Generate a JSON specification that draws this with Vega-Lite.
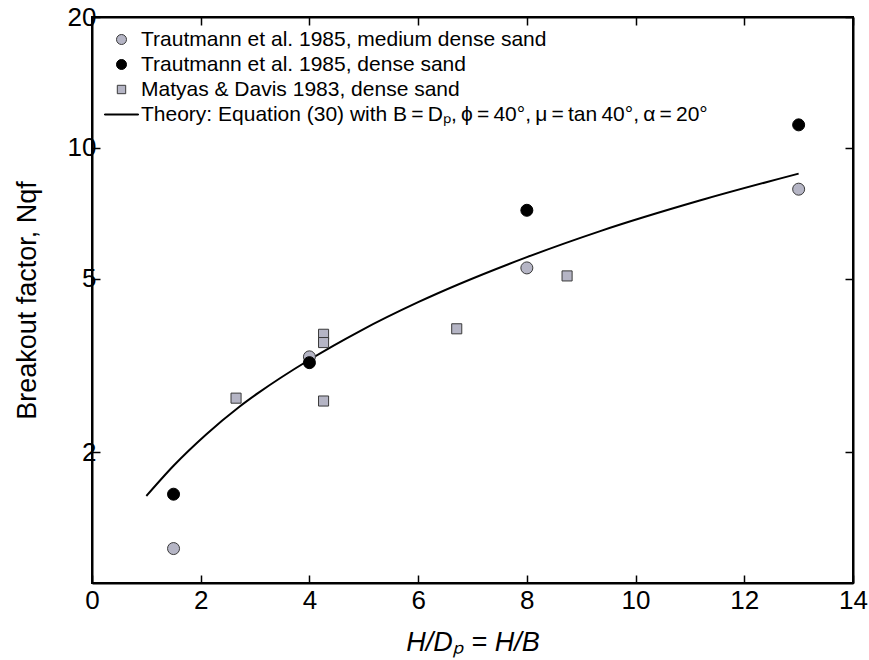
{
  "$schema": "https://vega.github.io/schema/vega-lite/v6.json",
  "width": 761,
  "height": 566,
  "autosize": {"type": "none"},
  "padding": {"left": 92, "top": 17, "right": 16, "bottom": 77},
  "background": "white",
  "config": {
    "font": "Liberation Sans",
    "view": {"stroke": "black", "strokeWidth": 2},
    "axis": {
      "grid": false,
      "domainColor": "black",
      "domainWidth": 2,
      "tickColor": "black",
      "tickWidth": 1.5,
      "tickSize": -8,
      "labelColor": "black",
      "labelFont": "Liberation Sans",
      "labelFontSize": 26,
      "labelFlush": false,
      "titleFont": "Liberation Sans",
      "titleFontSize": 27,
      "titleFontWeight": "normal",
      "titleColor": "black"
    }
  },
  "datasets": {
    "points": [
      {"h": 1.5, "n": 1.20, "series": "Trautmann et al. 1985, medium dense sand"},
      {"h": 4, "n": 3.31, "series": "Trautmann et al. 1985, medium dense sand"},
      {"h": 8, "n": 5.30, "series": "Trautmann et al. 1985, medium dense sand"},
      {"h": 13, "n": 8.04, "series": "Trautmann et al. 1985, medium dense sand"},
      {"h": 1.5, "n": 1.60, "series": "Trautmann et al. 1985, dense sand"},
      {"h": 4, "n": 3.21, "series": "Trautmann et al. 1985, dense sand"},
      {"h": 8, "n": 7.19, "series": "Trautmann et al. 1985, dense sand"},
      {"h": 13, "n": 11.3, "series": "Trautmann et al. 1985, dense sand"},
      {"h": 2.65, "n": 2.66, "series": "Matyas & Davis 1983, dense sand"},
      {"h": 4.26, "n": 3.73, "series": "Matyas & Davis 1983, dense sand"},
      {"h": 4.26, "n": 3.57, "series": "Matyas & Davis 1983, dense sand"},
      {"h": 4.26, "n": 2.62, "series": "Matyas & Davis 1983, dense sand"},
      {"h": 6.71, "n": 3.84, "series": "Matyas & Davis 1983, dense sand"},
      {"h": 8.74, "n": 5.08, "series": "Matyas & Davis 1983, dense sand"}
    ],
    "theory": [
      {"h": 1.0, "n": 1.585},
      {"h": 1.5, "n": 1.86},
      {"h": 2.1, "n": 2.195},
      {"h": 2.7, "n": 2.535},
      {"h": 3.06, "n": 2.735},
      {"h": 4.0, "n": 3.26},
      {"h": 4.93, "n": 3.795},
      {"h": 6.0, "n": 4.42},
      {"h": 8.0, "n": 5.61},
      {"h": 9.35, "n": 6.44},
      {"h": 11.18, "n": 7.57},
      {"h": 13.0, "n": 8.73}
    ]
  },
  "layer": [
    {
      "data": {"name": "theory"},
      "mark": {"type": "line", "color": "black", "strokeWidth": 2, "interpolate": "monotone"},
      "encoding": {
        "x": {"field": "h", "type": "quantitative", "scale": {"domain": [0, 14], "nice": false, "zero": false},
              "axis": {"orient": "top", "values": [0, 2, 4, 6, 8, 10, 12, 14], "labels": false, "title": null}},
        "y": {"field": "n", "type": "quantitative", "scale": {"type": "log", "domain": [1, 20], "nice": false},
              "axis": {"orient": "right", "values": [2, 5, 10, 20], "labels": false, "title": null}}
      }
    },
    {
      "data": {"name": "points"},
      "mark": {"type": "point", "filled": true, "size": 144, "strokeWidth": 1, "opacity": 1, "fillOpacity": 1, "strokeOpacity": 1},
      "encoding": {
        "x": {"field": "h", "type": "quantitative",
              "axis": {"orient": "bottom", "values": [0, 2, 4, 6, 8, 10, 12, 14], "labelPadding": 12, "title": "H/Dₚ = H/B", "titleFontStyle": "italic", "titlePadding": 16}},
        "y": {"field": "n", "type": "quantitative",
              "axis": {"orient": "left", "values": [2, 5, 10, 20], "format": "d", "labelPadding": 4, "title": "Breakout factor, Nqf", "titlePadding": 26}},
        "shape": {"field": "series", "type": "nominal",
                  "scale": {"domain": ["Trautmann et al. 1985, medium dense sand", "Trautmann et al. 1985, dense sand", "Matyas & Davis 1983, dense sand", "Theory: Equation (30) with B\u2009=\u2009Dₚ,\u2009ϕ\u2009=\u200940°,\u2009μ\u2009=\u2009tan\u200940°,\u2009α\u2009=\u200920°"],
                            "range": ["circle", "circle", "M-0.84,-0.84H0.84V0.84H-0.84Z", "M-3.4,-0.1H3.4V0.1H-3.4Z"]},
                  "legend": {"title": null, "orient": "none", "legendX": 19, "legendY": 12, "labelFontSize": 21, "labelFont": "Liberation Sans", "labelColor": "black", "labelLimit": 1000, "labelOffset": 9, "rowPadding": 3, "symbolSize": 100, "symbolStrokeWidth": 1, "fillColor": null, "strokeColor": null, "padding": 0}},
        "fill": {"field": "series", "type": "nominal",
                 "scale": {"domain": ["Trautmann et al. 1985, medium dense sand", "Trautmann et al. 1985, dense sand", "Matyas & Davis 1983, dense sand", "Theory: Equation (30) with B\u2009=\u2009Dₚ,\u2009ϕ\u2009=\u200940°,\u2009μ\u2009=\u2009tan\u200940°,\u2009α\u2009=\u200920°"],
                           "range": ["#b5b5c5", "#000000", "#b5b5c5", "#000000"]}},
        "stroke": {"field": "series", "type": "nominal",
                   "scale": {"domain": ["Trautmann et al. 1985, medium dense sand", "Trautmann et al. 1985, dense sand", "Matyas & Davis 1983, dense sand", "Theory: Equation (30) with B\u2009=\u2009Dₚ,\u2009ϕ\u2009=\u200940°,\u2009μ\u2009=\u2009tan\u200940°,\u2009α\u2009=\u200920°"],
                             "range": ["#3a3a3a", "#000000", "#3a3a3a", "#000000"]}}
      }
    }
  ],
  "resolve": {"axis": {"x": "independent", "y": "independent"}}
}
